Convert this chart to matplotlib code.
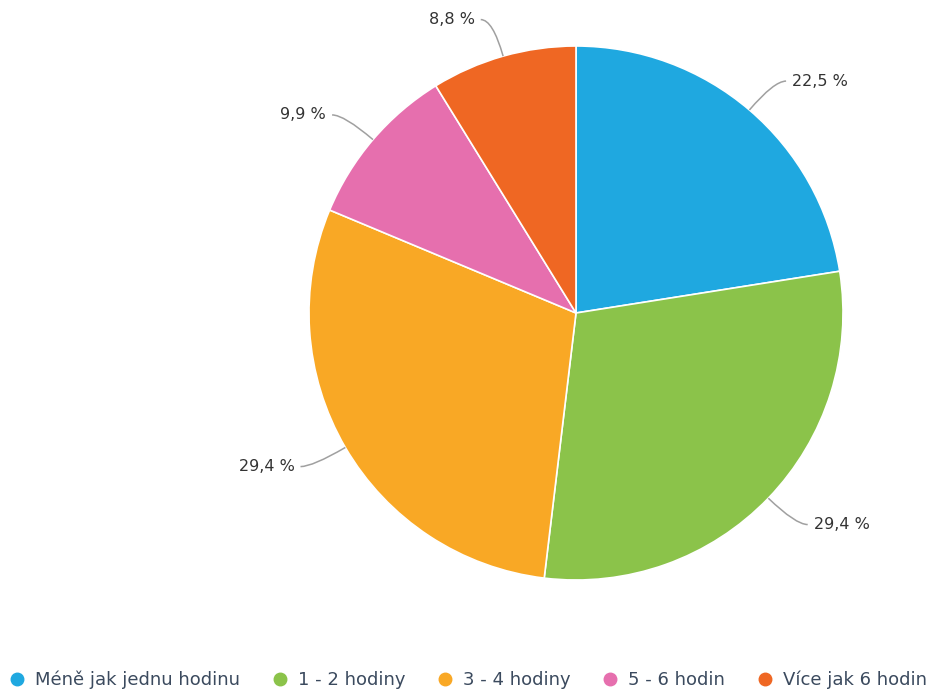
import numpy as np
import matplotlib.pyplot as plt
from matplotlib.path import Path
from matplotlib.patches import PathPatch
from matplotlib.lines import Line2D

# Podíly odpovědí (v procentech)
categories = ["Méně jak jednu hodinu", "1 - 2 hodiny", "3 - 4 hodiny", "5 - 6 hodin", "Více jak 6 hodin"]
values = [22.5, 29.4, 29.4, 9.9, 8.8]
colors = ["#1fa8e0", "#8bc34a", "#f9a825", "#e66fae", "#ef6723"]

W, H = 933, 693
CENTER = (576, H - 313)
RADIUS = 267

fig = plt.figure(figsize=(W / 100, H / 100), dpi=100)
ax = fig.add_axes([0, 0, 1, 1])

wedges, _ = ax.pie(values, colors=colors, startangle=90, counterclock=False,
                   center=CENTER, radius=RADIUS,
                   wedgeprops=dict(edgecolor="white", linewidth=1.2))

# pie() přepíše rozsah os, nastavit až potom
ax.set_xlim(0, W)
ax.set_ylim(0, H)
ax.set_aspect("equal")
ax.axis("off")

# Popisky s ohnutými spojnicemi
for w, v in zip(wedges, values):
    ang = np.deg2rad((w.theta1 + w.theta2) / 2)
    c, s = np.cos(ang), np.sin(ang)
    p0 = (CENTER[0] + RADIUS * c, CENTER[1] + RADIUS * s)
    p1 = (CENTER[0] + (RADIUS + 38) * c, CENTER[1] + (RADIUS + 38) * s)
    side = 1 if c >= 0 else -1
    p2 = (p1[0] + side * 12, p1[1])
    path = Path([p0, p1, p2], [Path.MOVETO, Path.CURVE3, Path.CURVE3])
    ax.add_patch(PathPatch(path, fill=False, edgecolor="#a0a0a0", lw=1.1))
    ax.text(p2[0] + side * 6, p2[1], f"{v:.1f} %".replace(".", ","),
            ha="left" if side > 0 else "right", va="center",
            fontsize=11.5, color="#333333")

handles = [Line2D([], [], marker="o", linestyle="none", markersize=9,
                  markerfacecolor=col, markeredgecolor=col) for col in colors]
fig.legend(handles, categories, loc="center", bbox_to_anchor=(0.5, 1 - 680 / H),
           ncol=5, frameon=False, fontsize=13, handletextpad=0.4,
           columnspacing=1.6, labelcolor="#3b4a5e", handlelength=1.2)

fig.savefig("out.png", dpi=100)
